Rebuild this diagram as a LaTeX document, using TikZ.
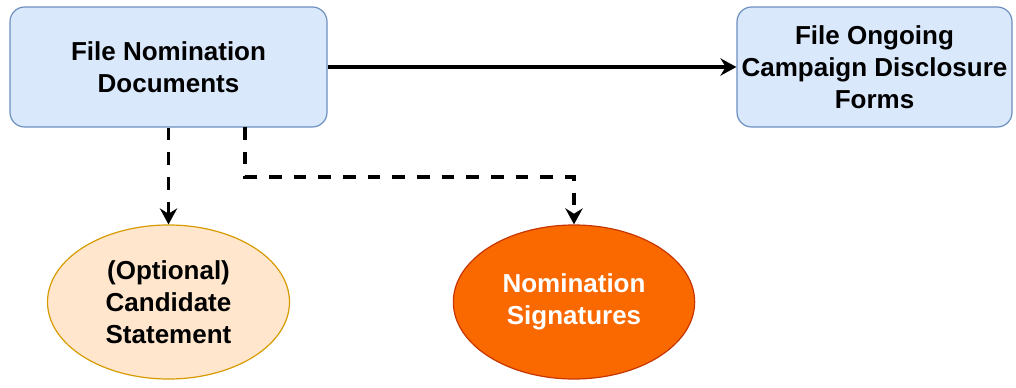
\documentclass[tikz,border=0pt]{standalone}
\usepackage{fontspec}
\setmainfont{Liberation Sans}
\usetikzlibrary{arrows.meta,shapes.geometric}
\definecolor{boxfill}{HTML}{DAE8FC}
\definecolor{boxline}{HTML}{6C8EBF}
\definecolor{optfill}{HTML}{FFE6CC}
\definecolor{optline}{HTML}{D79B00}
\definecolor{sigfill}{HTML}{FA6800}
\definecolor{sigline}{HTML}{C73500}
\tikzset{
  txt/.style={font=\fontsize{19.5}{24}\selectfont\bfseries, align=center, inner sep=0pt},
  procbox/.style={txt, draw=boxline, fill=boxfill, line width=0.9pt, rounded corners=11pt},
  optell/.style={txt, ellipse, draw=optline, fill=optfill, line width=0.9pt, minimum width=181.5pt, minimum height=115.5pt},
  sigell/.style={txt, ellipse, draw=sigline, fill=sigfill, text=white, line width=0.9pt, minimum width=181pt, minimum height=115.5pt},
  conn/.style={line width=2.3pt, -{Stealth[length=12pt,width=13pt,inset=4pt]}},
  dconn/.style={conn, dash pattern=on 9.5pt off 9pt},
}
\begin{document}
\begin{tikzpicture}[x=0.75pt,y=-0.75pt]
\useasboundingbox (0,0) rectangle (1016,388);
\node[procbox, minimum width=237.75pt, minimum height=90pt] (a) at (168.5,67) {File Nomination\\Documents};
\node[procbox, minimum width=206.25pt, minimum height=90pt] (b) at (874.5,67) {File Ongoing\\Campaign Disclosure\\Forms};
\node[optell] (c) at (168.5,302) {(Optional)\\Candidate\\Statement};
\node[sigell] (d) at (574,302) {Nomination\\Signatures};
\coordinate (s2) at (245,127);
\draw[conn] (a.east) -- (b.west);
\draw[dconn] (a.south) -- (c.north);
\draw[dconn] (s2) -- ++(0,50) -| (d.north);
\end{tikzpicture}
\end{document}
